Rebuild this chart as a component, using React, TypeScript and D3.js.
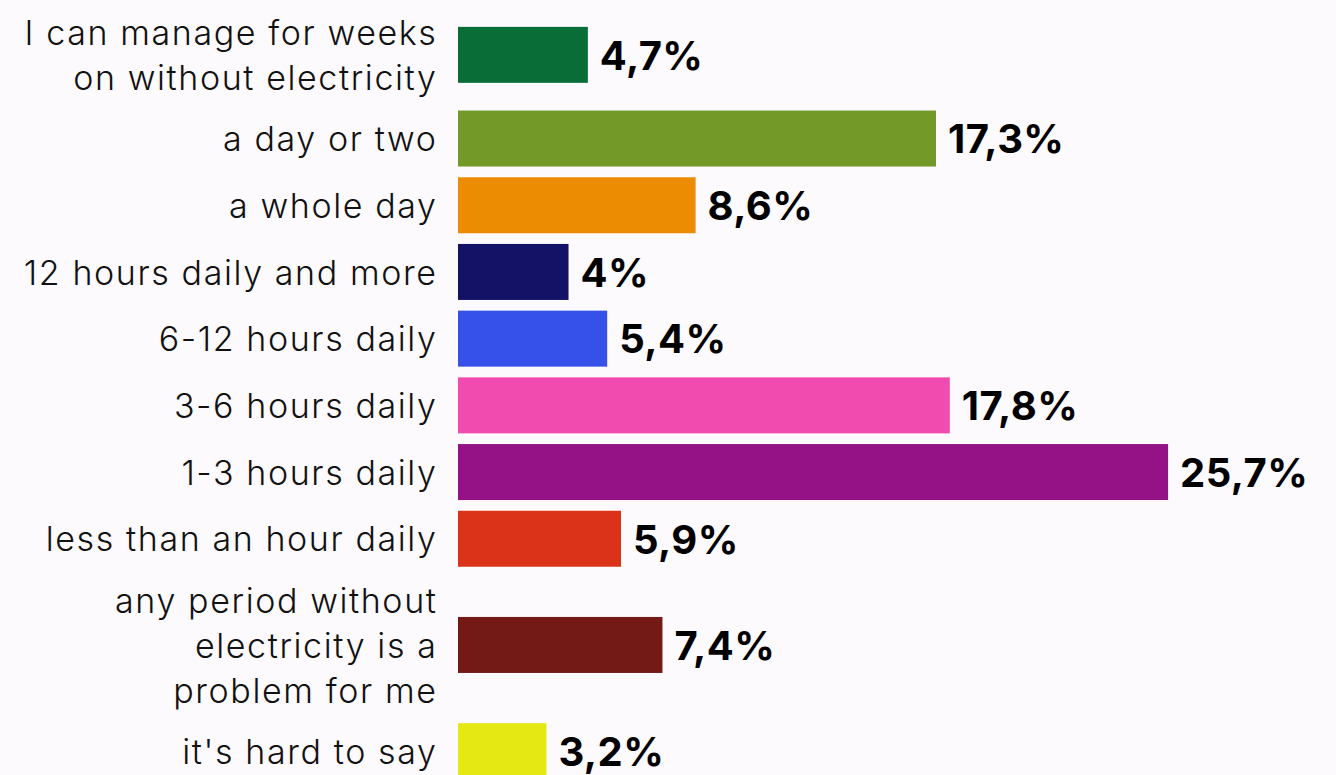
import { useEffect, useRef } from 'react';
import * as d3 from 'd3';

const categories = [
  'I can manage for weeks\non without electricity',
  'a day or two',
  'a whole day',
  '12 hours daily and more',
  '6-12 hours daily',
  '3-6 hours daily',
  '1-3 hours daily',
  'less than an hour daily',
  'any period without\nelectricity is a\nproblem for me',
  "it's hard to say",
];

const values = [4.7, 17.3, 8.6, 4, 5.4, 17.8, 25.7, 5.9, 7.4, 3.2];

const colors = [
  '#086d37',
  '#739a28',
  '#ec8c02',
  '#131266',
  '#3650ea',
  '#f24bb0',
  '#941286',
  '#db3319',
  '#731916',
  '#e6e814',
];

const width = 1336;
const height = 775;

export default function App() {
  const svgRef = useRef<SVGSVGElement>(null);

  useEffect(() => {
    if (!svgRef.current) return;
    const svg = d3.select(svgRef.current);
    svg.selectAll('*').remove();

    const barH = 56;
    const lineH = 45;
    const pad = 10.7;
    const top = 4.5;

    // row height grows with the number of label lines
    const lines = categories.map(c => c.split('\n'));
    const rowH = lines.map(l => Math.max(barH, l.length * lineH) + pad);
    const centers: number[] = [];
    let acc = top;
    rowH.forEach(h => {
      centers.push(acc + h / 2);
      acc += h;
    });

    const y = d3.scaleOrdinal<string, number>().domain(categories).range(centers);
    const x = d3.scaleLinear().domain([0, 30]).range([458, 458 + 30 * 27.63]);

    const fmt = d3.formatLocale({
      decimal: ',',
      thousands: ' ',
      grouping: [3],
      currency: ['', ''],
    }).format('.1~f');

    svg.append('rect')
      .attr('width', width)
      .attr('height', height)
      .attr('fill', '#fdfafd');

    const rows = svg.selectAll('g.row')
      .data(categories)
      .enter()
      .append('g')
      .attr('class', 'row');

    rows.append('rect')
      .attr('x', x(0))
      .attr('y', d => y(d) - barH / 2)
      .attr('width', (d, i) => x(values[i]) - x(0))
      .attr('height', barH)
      .attr('fill', (d, i) => colors[i]);

    rows.append('text')
      .attr('x', (d, i) => x(values[i]) + 12)
      .attr('y', d => y(d))
      .attr('dy', '0.37em')
      .style('font-family', 'Inter, sans-serif')
      .style('font-weight', 700)
      .style('font-size', '40px')
      .style('letter-spacing', '0.4px')
      .attr('fill', '#000')
      .text((d, i) => fmt(values[i]) + '%');

    const labels = rows.append('text')
      .attr('text-anchor', 'end')
      .style('font-family', 'Inter, sans-serif')
      .style('font-weight', 300)
      .style('font-size', '34px')
      .style('letter-spacing', '1.6px')
      .attr('fill', '#111');

    labels.each(function (d, i) {
      const ls = lines[i];
      const t = d3.select(this);
      ls.forEach((line, j) => {
        t.append('tspan')
          .attr('x', 437.5)
          .attr('y', y(d) + (j - (ls.length - 1) / 2) * lineH)
          .attr('dy', '0.37em')
          .text(line);
      });
    });
  }, []);

  return (
    <div>
      <style>{'body{margin:0;}'}</style>
      <svg ref={svgRef} width={width} height={height} style={{ display: 'block' }}></svg>
    </div>
  );
}
